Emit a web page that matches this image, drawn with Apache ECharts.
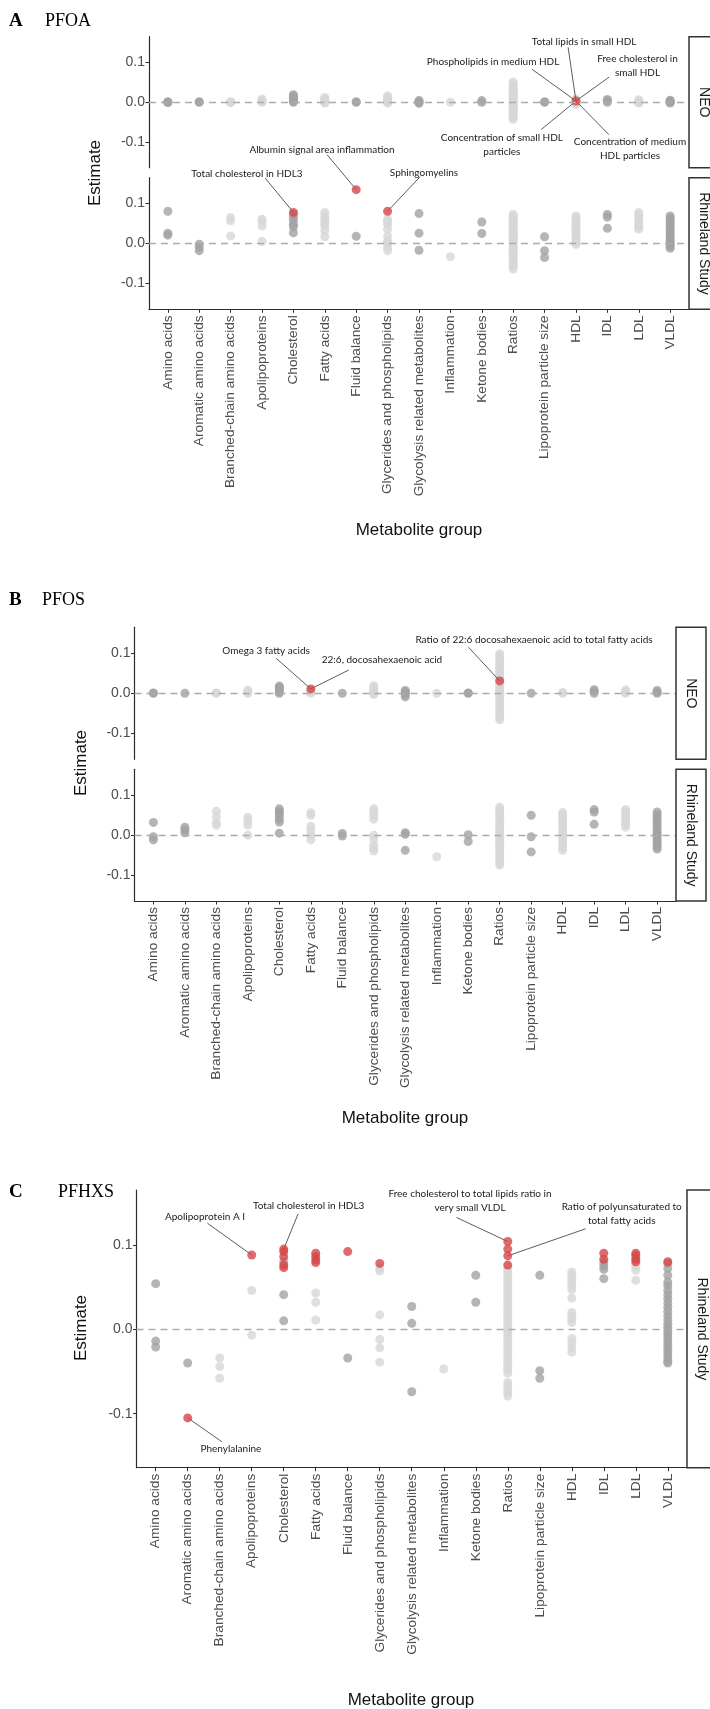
<!DOCTYPE html>
<html>
<head>
<meta charset="utf-8">
<script src="https://cdn.jsdelivr.net/npm/echarts@6/dist/echarts.min.js"></script>
<style>
  html, body { margin: 0; padding: 0; background: #fff; }
  #chart { width: 710px; height: 1709px; }
</style>
</head>
<body>
<div id="chart"></div>
<script>
// metabolite groups on the x axis
const categories = [
  "Amino acids", "Aromatic amino acids", "Branched-chain amino acids", "Apolipoproteins",
  "Cholesterol", "Fatty acids", "Fluid balance", "Glycerides and phospholipids",
  "Glycolysis related metabolites", "Inflammation", "Ketone bodies", "Ratios",
  "Lipoprotein particle size", "HDL", "IDL", "LDL", "VLDL"
];
const darkGroups = [
  "Amino acids", "Aromatic amino acids", "Cholesterol", "Fluid balance",
  "Glycolysis related metabolites", "Ketone bodies", "Lipoprotein particle size", "IDL", "VLDL"
];
const yTicks = [-0.1, 0, 0.1];

// A - PFOA, NEO
const pfoaNeo = [
  [0.0, 0.001, -0.001], [0.0, 0.001], [0.0, 0.001, -0.001], [0.0, 0.002, 0.004, 0.008],
  [0.0, 0.002, 0.004, 0.008, 0.012, 0.016, 0.019], [0.0, 0.004, 0.008, 0.012, -0.002], [0.0, 0.001],
  [0.0, 0.004, 0.008, 0.012, 0.016, -0.002], [0.0, 0.002, 0.004, -0.003], [0.0], [0.0, 0.004],
  [0.051, 0.046, 0.043, 0.038, 0.033, 0.030, 0.025, 0.021, 0.017, 0.014, 0.010, 0.006, 0.003, 0.0,
   -0.002, -0.006, -0.010, -0.013, -0.017, -0.022, -0.026, -0.030, -0.034, -0.038, -0.043],
  [0.0, 0.001], [0.008, 0.005, 0.002, 0.0, -0.003, -0.006], [0.0, 0.004, 0.007],
  [0.0, 0.003, 0.006, -0.002], [0.0, 0.003, 0.005, -0.002]
];
const pfoaNeoRed = [["HDL", 0.003]];
const pfoaNeoNotes = [
  { text: "Total lipids in small HDL", cat: "HDL", value: 0.003 },
  { text: "Phospholipids in medium HDL", cat: "HDL", value: 0.003 },
  { text: "Free cholesterol in\nsmall HDL", cat: "HDL", value: 0.003 },
  { text: "Concentration of small HDL\nparticles", cat: "HDL", value: 0.003 },
  { text: "Concentration of medium\nHDL particles", cat: "HDL", value: 0.003 }
];

// A - PFOA, Rhineland Study
const pfoaRhine = [
  [0.081, 0.026, 0.021], [-0.002, -0.009, -0.018], [0.065, 0.057, 0.019], [0.061, 0.055, 0.044, 0.005],
  [0.073, 0.066, 0.058, 0.048, 0.042, 0.027], [0.078, 0.069, 0.062, 0.057, 0.050, 0.044, 0.032, 0.017],
  [0.018], [0.061, 0.055, 0.048, 0.036, 0.018, 0.006, 0.0, -0.010, -0.018], [0.075, 0.026, -0.017],
  [-0.033], [0.054, 0.025],
  [0.073, 0.069, 0.064, 0.061, 0.056, 0.052, 0.047, 0.043, 0.039, 0.034, 0.030, 0.026, 0.021, 0.017,
   0.013, 0.009, 0.005, 0.001, -0.003, -0.008, -0.012, -0.016, -0.021, -0.025, -0.030, -0.034, -0.039,
   -0.043, -0.048, -0.053, -0.058, -0.064],
  [0.017, -0.018, -0.035],
  [0.069, 0.064, 0.058, 0.052, 0.046, 0.040, 0.035, 0.030, 0.024, 0.019, 0.013, 0.007, 0.002, -0.002],
  [0.073, 0.066, 0.038], [0.078, 0.072, 0.066, 0.060, 0.053, 0.047, 0.041, 0.036],
  [0.069, 0.064, 0.058, 0.053, 0.047, 0.041, 0.036, 0.030, 0.024, 0.019, 0.014, 0.008, 0.003, -0.002, -0.007, -0.012]
];
const pfoaRhineRed = [["Cholesterol", 0.078], ["Fluid balance", 0.135], ["Glycerides and phospholipids", 0.081]];
const pfoaRhineNotes = [
  { text: "Total cholesterol in HDL3", cat: "Cholesterol", value: 0.078 },
  { text: "Albumin signal area inflammation", cat: "Fluid balance", value: 0.135 },
  { text: "Sphingomyelins", cat: "Glycerides and phospholipids", value: 0.081 }
];

// B - PFOS, NEO
const pfosNeo = [
  [0.0, 0.001], [0.0], [0.0, 0.001], [0.0, 0.004, 0.008],
  [0.0, 0.004, 0.008, 0.012, 0.016, 0.018], [0.0, 0.004, 0.007], [0.0],
  [0.0, 0.005, 0.010, 0.015, 0.019, -0.003], [0.007, 0.004, 0.0, -0.004, -0.009], [0.0], [0.0, 0.001],
  [0.099, 0.092, 0.085, 0.079, 0.072, 0.066, 0.060, 0.053, 0.047, 0.041, 0.036, 0.026, 0.020, 0.014,
   0.009, 0.004, 0.0, -0.005, -0.010, -0.016, -0.022, -0.028, -0.034, -0.040, -0.047, -0.053, -0.060, -0.066],
  [0.0], [0.0, 0.002], [0.0, 0.005, 0.009], [0.0, 0.004, 0.008], [0.0, 0.003, 0.007]
];
const pfosNeoRed = [["Fatty acids", 0.011], ["Ratios", 0.031]];
const pfosNeoNotes = [
  { text: "Omega 3 fatty acids", cat: "Fatty acids", value: 0.011 },
  { text: "22:6, docosahexaenoic acid", cat: "Fatty acids", value: 0.011 },
  { text: "Ratio of 22:6 docosahexaenoic acid to total fatty acids", cat: "Ratios", value: 0.031 }
];

// B - PFOS, Rhineland Study
const pfosRhine = [
  [0.032, -0.004, -0.012], [0.020, 0.013, 0.006], [0.060, 0.045, 0.030, 0.025], [0.045, 0.036, 0.025, 0.0],
  [0.066, 0.060, 0.055, 0.048, 0.040, 0.033, 0.005], [0.056, 0.050, 0.022, 0.012, 0.0, -0.012],
  [0.004, -0.002], [0.066, 0.060, 0.050, 0.040, 0.0, -0.010, -0.025, -0.033, -0.040],
  [0.006, 0.002, -0.038], [-0.054], [0.001, -0.016],
  [0.070, 0.064, 0.058, 0.053, 0.047, 0.041, 0.036, 0.030, 0.024, 0.019, 0.013, 0.008, 0.002, -0.003,
   -0.009, -0.014, -0.020, -0.026, -0.031, -0.037, -0.042, -0.048, -0.054, -0.059, -0.065, -0.070, -0.075],
  [0.050, -0.004, -0.042],
  [0.057, 0.050, 0.044, 0.038, 0.030, 0.022, 0.015, 0.008, 0.0, -0.008, -0.016, -0.024, -0.032, -0.038],
  [0.064, 0.058, 0.027], [0.064, 0.058, 0.052, 0.046, 0.040, 0.033, 0.027, 0.020],
  [0.058, 0.052, 0.045, 0.039, 0.032, 0.025, 0.018, 0.012, 0.005, 0.0, -0.006, -0.012, -0.018, -0.024, -0.030, -0.035]
];
const pfosRhineRed = [];
const pfosRhineNotes = [];

// C - PFHXS, Rhineland Study
const pfhxsRhine = [
  [0.054, -0.014, -0.021], [-0.040], [-0.034, -0.044, -0.058], [0.046, -0.007],
  [0.080, 0.041, 0.010], [0.043, 0.032, 0.011], [-0.034], [0.072, 0.069, 0.017, -0.012, -0.022, -0.039],
  [0.027, 0.007, -0.074], [-0.047], [0.064, 0.032],
  [0.074, 0.070, 0.067, 0.063, 0.060, 0.056, 0.052, 0.049, 0.045, 0.042, 0.038, 0.034, 0.031, 0.027,
   0.024, 0.020, 0.016, 0.013, 0.009, 0.006, 0.002, -0.002, -0.005, -0.009, -0.012, -0.016, -0.020,
   -0.023, -0.027, -0.030, -0.034, -0.038, -0.041, -0.045, -0.048, -0.052, -0.063, -0.067, -0.071, -0.075, -0.079],
  [0.064, -0.049, -0.058],
  [0.068, 0.064, 0.060, 0.056, 0.052, 0.047, 0.037, 0.020, 0.016, 0.012, 0.008, -0.011, -0.016, -0.022, -0.027],
  [0.079, 0.075, 0.071, 0.060], [0.078, 0.074, 0.070, 0.058],
  [0.078, 0.072, 0.064, 0.056, 0.052, 0.046, 0.041, 0.036, 0.031, 0.026, 0.021, 0.016, 0.011, 0.006,
   0.002, -0.002, -0.006, -0.010, -0.014, -0.018, -0.022, -0.026, -0.030, -0.034, -0.038, -0.040]
];
const pfhxsRhineRed = [
  ["Aromatic amino acids", -0.105], ["Apolipoproteins", 0.088],
  ["Cholesterol", 0.095], ["Cholesterol", 0.092], ["Cholesterol", 0.086], ["Cholesterol", 0.076], ["Cholesterol", 0.073],
  ["Fatty acids", 0.090], ["Fatty acids", 0.086], ["Fatty acids", 0.082], ["Fatty acids", 0.079],
  ["Fluid balance", 0.092], ["Glycerides and phospholipids", 0.078],
  ["Ratios", 0.104], ["Ratios", 0.095], ["Ratios", 0.087], ["Ratios", 0.076],
  ["IDL", 0.090], ["IDL", 0.083], ["LDL", 0.090], ["LDL", 0.087], ["LDL", 0.083], ["LDL", 0.080], ["VLDL", 0.080]
];
const pfhxsRhineNotes = [
  { text: "Apolipoprotein A I", cat: "Apolipoproteins", value: 0.088 },
  { text: "Total cholesterol in HDL3", cat: "Cholesterol", value: 0.095 },
  { text: "Free cholesterol to total lipids ratio in\nvery small VLDL", cat: "Ratios", value: 0.104 },
  { text: "Ratio of polyunsaturated to\ntotal fatty acids", cat: "Ratios", value: 0.087 },
  { text: "Phenylalanine", cat: "Aromatic amino acids", value: -0.105 }
];

// label placement of the annotations, in axis units: [textX, textY, lineEndX, lineEndY]
const notePlacement = [
  [[14.26, 0.153, 13.75, 0.138], [11.36, 0.101, 12.6, 0.083], [15.96, 0.091, 15.05, 0.063],
   [11.64, -0.108, 12.89, -0.069], [15.72, -0.117, 15.05, -0.082]],
  [[3.52, 0.176, 4.10, 0.164], [5.91, 0.236, 6.07, 0.223], [9.16, 0.178, 9.03, 0.167]],
  [[4.58, 0.1065, 4.90, 0.0875], [8.26, 0.085, 7.2, 0.058], [13.09, 0.133, 11.01, 0.115]],
  [],
  [[2.54, 0.1336, 2.615, 0.1257], [5.78, 0.1463, 5.45, 0.1368], [10.82, 0.1524, 10.40, 0.1324],
   [15.56, 0.137, 14.43, 0.119], [3.35, -0.1412, 3.07, -0.1333]]
];

// panel frames in pixels
const panels = [
  { left: 149, top: 36.7, width: 540, height: 131, strip: "NEO", bottom: false },
  { left: 149, top: 177.7, width: 540, height: 131.6, strip: "Rhineland Study", bottom: true },
  { left: 134.5, top: 627.3, width: 541.5, height: 132, strip: "NEO", bottom: false },
  { left: 134.5, top: 769.3, width: 541.5, height: 131.7, strip: "Rhineland Study", bottom: true },
  { left: 136.5, top: 1190, width: 550.5, height: 277.7, strip: "Rhineland Study", bottom: true, ymin: -0.164, ymax: 0.165 }
];
const panelData = [
  { groups: pfoaNeo, red: pfoaNeoRed, notes: pfoaNeoNotes },
  { groups: pfoaRhine, red: pfoaRhineRed, notes: pfoaRhineNotes },
  { groups: pfosNeo, red: pfosNeoRed, notes: pfosNeoNotes },
  { groups: pfosRhine, red: pfosRhineRed, notes: pfosRhineNotes },
  { groups: pfhxsRhine, red: pfhxsRhineRed, notes: pfhxsRhineNotes }
];

const DARK = "#a2a2a2", LIGHT = "#d7d7d7", RED = "#d6474a";
const AXIS = "#2b2b2b", TXT = "#4d4d4d";
const SANS = "Liberation Sans", SERIF = "Liberation Serif";
const catPos = (name) => categories.indexOf(name) + 1;
const tickPos = categories.map((c, i) => i + 1);

function points(groups, dark) {
  const out = [];
  groups.forEach((vals, i) => {
    if (darkGroups.includes(categories[i]) !== dark) return;
    vals.forEach((v) => out.push([i + 1, v]));
  });
  return out;
}

const myChart = echarts.init(document.getElementById("chart"), null, { renderer: "canvas" });

const grid = panels.map((p) => ({
  left: p.left, top: p.top, width: p.width, height: p.height,
  containLabel: false, outerBoundsMode: "none"
}));

const xAxis = panels.map((p, i) => ({
  type: "value", gridIndex: i, min: 0.4, max: 17.6, show: p.bottom,
  splitLine: { show: false },
  axisLine: { show: true, onZero: false, lineStyle: { color: AXIS, width: 1.2 } },
  axisTick: { show: true, customValues: tickPos, length: 3.5, lineStyle: { color: AXIS, width: 1 } },
  axisLabel: {
    customValues: tickPos, rotate: 90, margin: 6, color: TXT, fontSize: 13.7, fontFamily: SANS,
    formatter: (v) => categories[Math.round(v) - 1]
  }
}));

const yAxis = panels.map((p, i) => ({
  type: "value", gridIndex: i, min: p.ymin ?? -0.165, max: p.ymax ?? 0.165,
  splitLine: { show: false },
  axisLine: { show: true, onZero: false, lineStyle: { color: AXIS, width: 1.2 } },
  axisTick: { show: true, customValues: yTicks, length: 3.5, lineStyle: { color: AXIS, width: 1 } },
  axisLabel: {
    customValues: yTicks, margin: 4, color: TXT, fontSize: 14, fontFamily: SANS,
    formatter: (v) => v.toFixed(1)
  }
}));

const series = [];
panelData.forEach((d, i) => {
  // dashed zero reference
  series.push({
    type: "scatter", xAxisIndex: i, yAxisIndex: i, data: [], z: 1, silent: true,
    markLine: {
      silent: true, symbol: ["none", "none"], label: { show: false },
      lineStyle: { type: [7, 5], color: "#ababab", width: 1.3 },
      data: [{ yAxis: 0 }]
    }
  });
  series.push({
    type: "scatter", xAxisIndex: i, yAxisIndex: i, z: 2, symbolSize: 9,
    itemStyle: { color: LIGHT }, data: points(d.groups, false)
  });
  series.push({
    type: "scatter", xAxisIndex: i, yAxisIndex: i, z: 2, symbolSize: 9,
    itemStyle: { color: DARK }, data: points(d.groups, true)
  });
  const notes = d.notes;
  const place = notePlacement[i];
  if (notes.length) {
    series.push({
      type: "custom", xAxisIndex: i, yAxisIndex: i, z: 3, clip: false, silent: true,
      encode: { x: 0, y: 1 },
      data: notes.map((n, k) => [catPos(n.cat), n.value, place[k][2], place[k][3], place[k][0], place[k][1], k]),
      renderItem: (params, api) => {
        const p = api.coord([api.value(0), api.value(1)]);
        const e = api.coord([api.value(2), api.value(3)]);
        const t = api.coord([api.value(4), api.value(5)]);
        const note = notes[api.value(6)];
        return {
          type: "group",
          children: [
            { type: "line", shape: { x1: p[0], y1: p[1], x2: e[0], y2: e[1] },
              style: { stroke: "#333", lineWidth: 0.8 } },
            { type: "text", style: {
                text: note.text, x: t[0], y: t[1], align: "center", verticalAlign: "middle",
                fontSize: 10, fontFamily: "Lato", fill: "#1a1a1a", lineHeight: 14 } }
          ]
        };
      }
    });
  }
  series.push({
    type: "scatter", xAxisIndex: i, yAxisIndex: i, z: 4, symbolSize: 9,
    itemStyle: { color: RED }, data: d.red.map((r) => [catPos(r[0]), r[1]])
  });
});

// strips, titles and shared axis titles
const graphic = [];
panels.forEach((p) => {
  const sx = p.left + p.width;
  graphic.push({
    type: "rect", shape: { x: sx, y: p.top, width: 30, height: p.height },
    style: { fill: "#fff", stroke: "#333", lineWidth: 1.5 }, z: 10
  });
  graphic.push({
    type: "text", x: sx + 15, y: p.top + p.height / 2, rotation: -Math.PI / 2, z: 11,
    style: { text: p.strip, align: "center", verticalAlign: "middle", fontSize: 14, fontFamily: SANS, fill: "#1a1a1a" }
  });
});
const titles = [
  { letter: "A", name: "PFOA", nameX: 45, y: 21, estX: 95, estY: 173, groupX: 419, groupY: 530 },
  { letter: "B", name: "PFOS", nameX: 42, y: 600, estX: 81.5, estY: 763, groupX: 405, groupY: 1118 },
  { letter: "C", name: "PFHXS", nameX: 58, y: 1192, estX: 81.5, estY: 1328, groupX: 411, groupY: 1700 }
];
titles.forEach((t) => {
  graphic.push({ type: "text", x: 9, y: t.y, style: {
    text: t.letter, align: "left", verticalAlign: "middle", fontSize: 19, fontWeight: "bold", fontFamily: SERIF, fill: "#000" } });
  graphic.push({ type: "text", x: t.nameX, y: t.y, style: {
    text: t.name, align: "left", verticalAlign: "middle", fontSize: 18, fontFamily: SERIF, fill: "#000" } });
  graphic.push({ type: "text", x: t.estX, y: t.estY, rotation: Math.PI / 2, style: {
    text: "Estimate", align: "center", verticalAlign: "middle", fontSize: 17, fontFamily: SANS, fill: "#111" } });
  graphic.push({ type: "text", x: t.groupX, y: t.groupY, style: {
    text: "Metabolite group", align: "center", verticalAlign: "middle", fontSize: 17, fontFamily: SANS, fill: "#111" } });
});

myChart.setOption({
  animation: false,
  backgroundColor: "#fff",
  grid: grid,
  xAxis: xAxis,
  yAxis: yAxis,
  series: series,
  graphic: graphic
});
</script>
</body>
</html>
